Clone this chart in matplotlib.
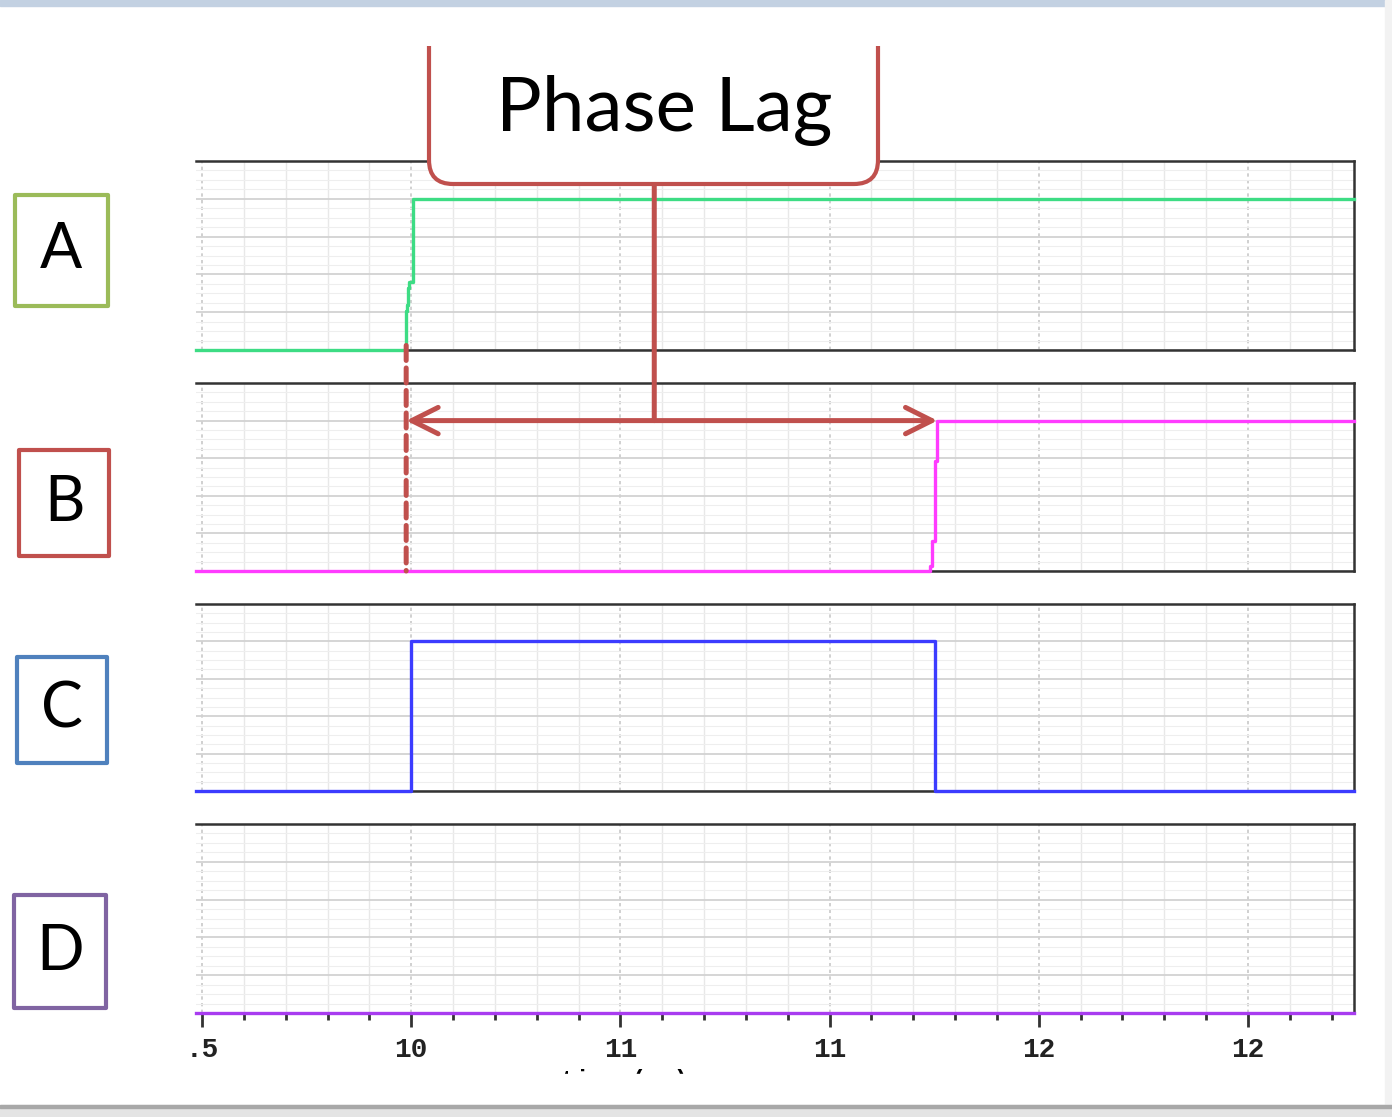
import matplotlib.pyplot as plt
from matplotlib.patches import FancyBboxPatch, Rectangle, ConnectionPatch
from matplotlib.ticker import MultipleLocator
from matplotlib.transforms import blended_transform_factory

W, H = 1392, 1117

# time axis (us)
t_start, t_end = 9.4856, 12.2536
tick_pos = [9.5, 10.0, 10.5, 11.0, 11.5, 12.0]
tick_labels = ['.5', '10', '11', '11', '12', '12']

# digital traces, 0 = low, 1 = high
a_t = [t_start, 9.978, 9.988, 9.990, 9.993, 9.995, 10.005, t_end]
a_v = [0, 0, 0.26, 0.30, 0.41, 0.45, 1, 1]
b_t = [t_start, 11.218, 11.240, 11.246, 11.246, 11.251, 11.251, 11.256, 11.258, t_end]
b_v = [0, 0, 0.03, 0.08, 0.20, 0.25, 0.73, 0.78, 1, 1]
c_t = [t_start, 10.0, 10.0, 11.251, 11.251, t_end]
c_v = [0, 0, 1, 1, 0, 0]
d_t = [t_start, t_end]
d_v = [0, 0]

lag_start = 9.988   # edge of A
lag_end = 11.258    # edge of B
callout_t = 10.581

labels = ['A', 'B', 'C', 'D']
label_colors = ['#9bbb59', '#c0504d', '#4f81bd', '#8064a2']
trace_colors = ['#3ddc84', '#ff3cff', '#3c3cff', '#a83cf0']
red = '#c0504d'

fig = plt.figure(figsize=(W / 100, H / 100), dpi=100)
fig.patch.set_facecolor('white')

# panel tops / bottoms in pixels
panel_px = [(161, 350), (383, 571), (604, 791), (824, 1013)]
traces = [(a_t, a_v), (b_t, b_v), (c_t, c_v), (d_t, d_v)]
axes = []
for i, ((top, bot), (tt, vv)) in enumerate(zip(panel_px, traces)):
    ax = fig.add_axes([196 / W, 1 - bot / H, (1354 - 196) / W, (bot - top) / H])
    ax.set_xlim(t_start, t_end)
    ax.set_ylim(0, 1.25)
    ax.xaxis.set_major_locator(MultipleLocator(0.5))
    ax.xaxis.set_minor_locator(MultipleLocator(0.1))
    ax.yaxis.set_major_locator(MultipleLocator(0.25))
    ax.yaxis.set_minor_locator(MultipleLocator(0.0625))
    ax.grid(which='minor', axis='x', color='#e8e8e8', lw=1.0)
    ax.grid(which='major', axis='x', color='#c8c8c8', lw=1.2, ls=(0, (2, 2)))
    ax.grid(which='minor', axis='y', color='#eeeeee', lw=0.8)
    ax.grid(which='major', axis='y', color='#d2d2d2', lw=1.3)
    ax.set_axisbelow(True)
    for s in ['top', 'bottom', 'right']:
        ax.spines[s].set_color('#333333')
        ax.spines[s].set_linewidth(1.8)
    ax.spines['left'].set_visible(False)
    ax.tick_params(which='both', left=False, labelleft=False)
    ax.step(tt, vv, where='post', color=trace_colors[i], lw=2.4,
            clip_on=False, zorder=3)
    if i < 3:
        ax.tick_params(which='both', bottom=False, labelbottom=False)
    else:
        ax.set_xticks(tick_pos)
        ax.set_xticklabels(tick_labels, family='Liberation Mono',
                           weight='bold', fontsize=20, color='#222222')
        ax.tick_params(which='major', direction='out', length=10, width=2,
                       color='#333333', pad=7)
        ax.tick_params(which='minor', direction='out', length=5, width=2,
                       color='#333333')
    axes.append(ax)

axA, axB, axC, axD = axes

# clipped axis title under the time axis
fig.text(625 / W, 1 - 1081 / H, 'time (us)', family='Liberation Mono',
         weight='bold', fontsize=17, ha='center', va='center', zorder=1)
fig.patches.append(Rectangle((0, 1 - 1105 / H), 1, (1105 - 1074) / H,
                             transform=fig.transFigure, color='white', zorder=2))
# window chrome
fig.patches.append(Rectangle((0, 1 - 6 / H), 1, 6 / H, transform=fig.transFigure,
                             color='#c3d1e2', zorder=2))
fig.patches.append(Rectangle((1 - 7 / W, 0), 7 / W, 1, transform=fig.transFigure,
                             color='#f2f2f2', zorder=2))
fig.patches.append(Rectangle((0, 0), 1, (H - 1105) / H, transform=fig.transFigure,
                             color='#e4e4e4', zorder=2))
fig.patches.append(Rectangle((0, 1 - 1108 / H), 1, 3 / H, transform=fig.transFigure,
                             color='#a8a8a8', zorder=2))

# phase lag arrow between the edges
axB.annotate('', xy=(lag_end, 1.0), xytext=(lag_start, 1.0),
             arrowprops=dict(arrowstyle='<->,head_length=1.9,head_width=0.95',
                             color=red, lw=3.6, shrinkA=0, shrinkB=0),
             zorder=6)

dash = ConnectionPatch(xyA=(lag_start, 0.03), coordsA=axA.transData,
                       xyB=(lag_start, 0.0), coordsB=axB.transData,
                       color=red, lw=3.6, ls=(0, (3, 1.5)), zorder=4)
fig.add_artist(dash)

# overlay in pixel units for the labels and callout
ov = fig.add_axes([0, 0, 1, 1 - 46 / H], zorder=5)
ov.set_xlim(0, W)
ov.set_ylim(H, 46)
ov.axis('off')
ov.patch.set_alpha(0)

stem = ConnectionPatch(xyA=(callout_t, 1.0), coordsA=axB.transData,
                       xyB=(callout_t, 184),
                       coordsB=blended_transform_factory(axB.transData, ov.transData),
                       color=red, lw=3.6, zorder=4)
fig.add_artist(stem)

box = FancyBboxPatch((429, 10), 449, 174, boxstyle='round,pad=0,rounding_size=24',
                     fc='white', ec=red, lw=3.0)
ov.add_patch(box)
ov.text(664, 110, 'Phase Lag', family='Lato', fontsize=55, ha='center',
        va='center', color='black')

label_boxes = [(15, 195, 108, 306), (19, 450, 109, 556),
               (17, 657, 107, 763), (14, 895, 106, 1008)]
for lab, col, (x0, y0, x1, y1) in zip(labels, label_colors, label_boxes):
    ov.add_patch(Rectangle((x0, y0), x1 - x0, y1 - y0, fill=False, ec=col,
                           lw=3.0, joinstyle='round'))
    ov.text((x0 + x1) / 2, (y0 + y1) / 2, lab, family='Lato', fontsize=45,
            ha='center', va='center', color='black')

fig.savefig('out.png', dpi=100)
